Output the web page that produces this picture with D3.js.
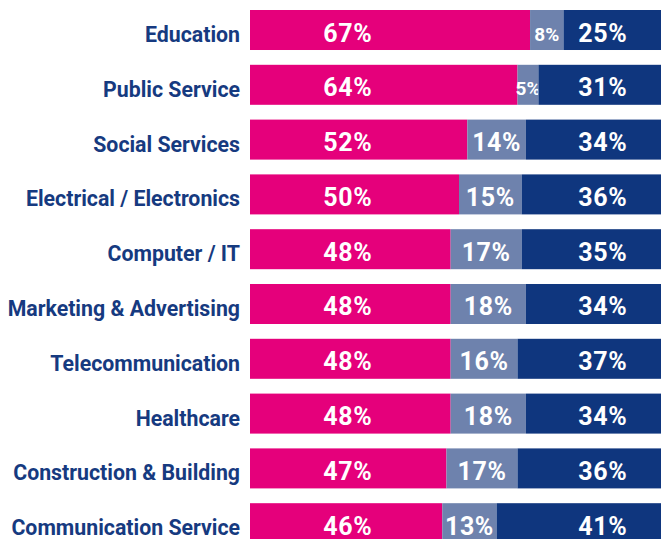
<!DOCTYPE html>
<html>
<head>
<meta charset="utf-8">
<script src="https://cdn.jsdelivr.net/npm/d3@7"></script>
<style>
  html, body { margin: 0; padding: 0; background: #fff; }
  svg { display: block; font-family: Roboto, "Noto Sans", sans-serif; }
</style>
</head>
<body>
<svg id="chart" width="661" height="539"></svg>
<script>
// Industry rows, top to bottom
const categories = [
  'Education', 'Public Service', 'Social Services', 'Electrical / Electronics',
  'Computer / IT', 'Marketing & Advertising', 'Telecommunication', 'Healthcare',
  'Construction & Building', 'Communication Service'
];
const pinkValues  = [67, 64, 52, 50, 48, 48, 48, 48, 47, 46];
const greyValues  = [8, 5, 14, 15, 17, 18, 16, 18, 17, 13];
const navyValues  = [25, 31, 34, 36, 35, 34, 37, 34, 36, 41];
const seriesKeys = ['pink', 'grey', 'navy'];

const COLORS = { pink: '#e5007b', grey: '#6e82ad', navy: '#0f367e' };
const TEXT_NAVY = '#163a80';

// pink and navy labels sit at a fixed spot along the bar, grey ones are centred
const PINK_LABEL_AT = 23.4;
const NAVY_LABEL_AT = 84.4;

const rows = categories.map((c, i) => ({
  category: c, pink: pinkValues[i], grey: greyValues[i], navy: navyValues[i]
}));

const svg = d3.select('#chart');

const x = d3.scaleLinear().domain([0, 100]).range([250, 668]);
const y = d3.scaleBand().domain(categories).range([10, 543.2]).paddingInner(0.27).paddingOuter(0);

const stacked = d3.stack().keys(seriesKeys)(rows);

const layers = svg.append('g').selectAll('g')
  .data(stacked).join('g')
  .attr('fill', (d) => COLORS[d.key]);

layers.selectAll('rect')
  .data((d) => d)
  .join('rect')
  .attr('x', (d) => x(d[0]))
  .attr('y', (d) => y(d.data.category))
  .attr('width', (d) => x(d[1]) - x(d[0]))
  .attr('height', y.bandwidth());

// category labels
svg.append('g').selectAll('text')
  .data(rows).join('text')
  .attr('x', x(0) - 10)
  .attr('y', (d) => y(d.category) + y.bandwidth() / 2 + 12)
  .attr('text-anchor', 'end')
  .attr('fill', TEXT_NAVY)
  .attr('font-size', '21.3px')
  .attr('font-weight', '700')
  .text((d) => d.category);

// value labels
const labelX = (layer, d) => {
  if (layer.key === 'pink') return x(PINK_LABEL_AT);
  if (layer.key === 'navy') return x(NAVY_LABEL_AT);
  return (x(d[0]) + x(d[1])) / 2;
};

layers.each(function (layer) {
  d3.select(this).selectAll('text')
    .data(layer).join('text')
    .attr('x', (d) => labelX(layer, d))
    .attr('y', (d) => y(d.data.category) + y.bandwidth() / 2 + 11.5)
    .attr('text-anchor', 'middle')
    .attr('fill', '#fff')
    .attr('font-weight', '700')
    .attr('letter-spacing', (d) => (d.data[layer.key] < 10 ? '0' : '0.6px'))
    .attr('font-size', (d) => (d.data[layer.key] < 10 ? '19px' : '25px'))
    .attr('dy', (d) => (d.data[layer.key] < 10 ? '-1' : '0'))
    .text((d) => `${d.data[layer.key]}%`);
});
</script>
</body>
</html>
